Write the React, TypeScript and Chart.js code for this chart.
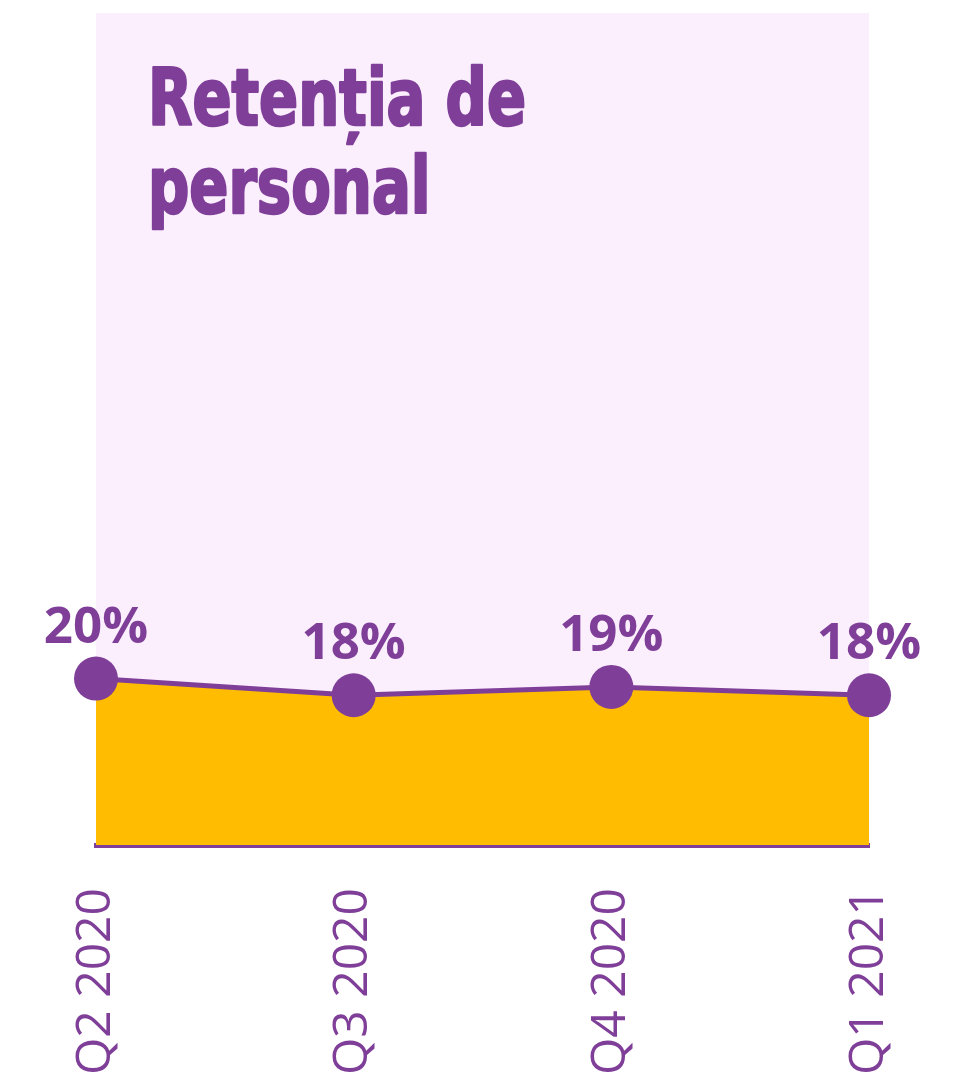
import React, { useEffect, useRef } from "react";
import { Chart, registerables } from "chart.js";

Chart.register(...registerables);

const categories = ["Q2 2020", "Q3 2020", "Q4 2020", "Q1 2021"];
const retention = [20, 18, 19, 18];
const valueLabels = ["20%", "18%", "19%", "18%"];
const titleLines = ["Retenția de", "personal"];

const PURPLE = "#7F3F98";
const ORANGE = "#FFBC00";
const PINK = "#FBEEFD";

const bgPlugin = {
  id: "areaBg",
  beforeDraw(chart: any) {
    const { ctx, chartArea } = chart;
    ctx.save();
    ctx.fillStyle = PINK;
    ctx.fillRect(chartArea.left, chartArea.top, chartArea.right - chartArea.left, chartArea.bottom - chartArea.top);
    ctx.restore();
  },
};

const textPlugin = {
  id: "texts",
  afterDraw(chart: any) {
    const { ctx, chartArea } = chart;
    // title
    ctx.save();
    ctx.fillStyle = PURPLE;
    ctx.strokeStyle = PURPLE;
    ctx.lineWidth = 2.5;
    ctx.lineJoin = "round";
    ctx.textBaseline = "alphabetic";
    ctx.textAlign = "left";
    ctx.font = 'bold 79px "Liberation Sans Narrow", "DejaVu Sans Condensed", sans-serif';
    const w = ctx.measureText(titleLines[0]).width;
    const sx = 378 / w;
    const x0 = chartArea.left + 52;
    titleLines.forEach((line, i) => {
      ctx.save();
      ctx.translate(x0, chartArea.top + 112 + i * 88);
      ctx.scale(sx, 1);
      ctx.fillText(line, 0, 0);
      ctx.strokeText(line, 0, 0);
      ctx.restore();
    });
    ctx.restore();

    // value labels
    const meta = chart.getDatasetMeta(0);
    ctx.save();
    ctx.fillStyle = PURPLE;
    ctx.font = 'bold 51px "Open Sans", sans-serif';
    ctx.textAlign = "center";
    ctx.textBaseline = "alphabetic";
    meta.data.forEach((pt: any, i: number) => {
      ctx.fillText(valueLabels[i], pt.x, pt.y - 36);
    });
    ctx.restore();
  },
};

export default function App() {
  const ref = useRef<HTMLCanvasElement>(null);
  useEffect(() => {
    if (!ref.current) return;
    const chart = new Chart(ref.current, {
      type: "line",
      data: {
        labels: categories,
        datasets: [
          {
            data: retention,
            borderColor: PURPLE,
            borderWidth: 5,
            backgroundColor: ORANGE,
            fill: "origin",
            pointRadius: 22,
            pointHoverRadius: 22,
            pointBackgroundColor: PURPLE,
            pointBorderWidth: 0,
            tension: 0,
            clip: false as any,
          },
        ],
      },
      options: {
        animation: false,
        responsive: false,
        events: [],
        layout: { autoPadding: false, padding: { left: 96, right: 89, top: 13, bottom: 0 } },
        plugins: {
          legend: { display: false },
          tooltip: { enabled: false },
          title: { display: false },
        },
        scales: {
          x: {
            offset: false,
            z: 1,
            grid: { display: false, drawTicks: false },
            border: { display: true, color: PURPLE, width: 5 },
            ticks: {
              color: PURPLE,
              font: { family: '"Open Sans", sans-serif', size: 48, weight: 400 as any },
              minRotation: 90,
              maxRotation: 90,
              padding: 43,
              autoSkip: false,
            },
            afterFit: (s: any) => {
              s.height = 234;
              s.paddingLeft = 0;
              s.paddingRight = 0;
              s.paddingTop = 0;
              s.paddingBottom = 0;
            },
          },
          y: { display: false, min: 0, max: 100 },
        },
      },
      plugins: [bgPlugin, textPlugin],
    });
    return () => chart.destroy();
  }, []);
  return (
    <div style={{ position: "absolute", left: 0, top: 0 }}>
      <canvas ref={ref} width={958} height={1079} />
    </div>
  );
}
